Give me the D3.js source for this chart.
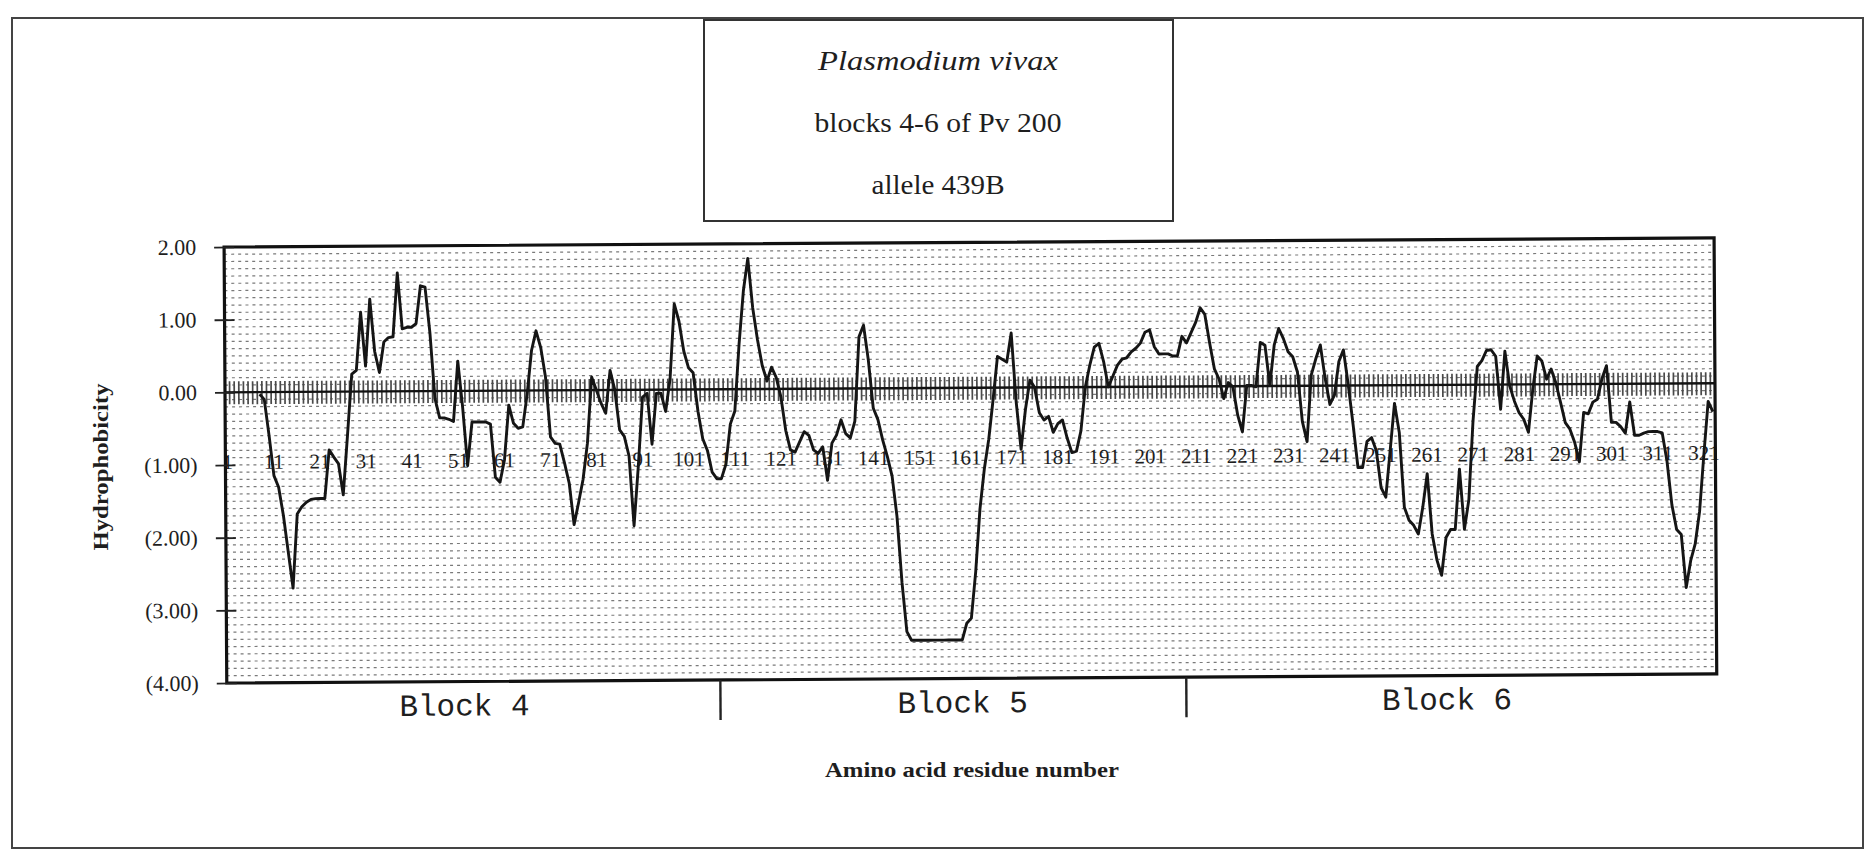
<!DOCTYPE html>
<html><head><meta charset="utf-8">
<script src="https://cdn.jsdelivr.net/npm/d3@7"></script>
<style>html,body{margin:0;padding:0;background:#fff;} svg{display:block;} .serif{font-family:"Liberation Serif","Times New Roman",serif;} .mono{font-family:"Liberation Mono","Courier New",monospace;}</style>
</head><body>
<svg id="chart" width="1867" height="851"></svg>
<script>
// ---------------- data ----------------
const residues = d3.range(1, 324); // amino acid residue numbers 1..323
const hydrophobicity = [
 null,null,null,null,null,null,null,
 -0.03,-0.10,-0.60,-1.15,-1.31,-1.70,-2.20,-2.70,-1.68,-1.58,
 -1.52,-1.48,-1.47,-1.47,-1.47,-0.80,-0.90,-0.99,-1.42,-0.60,
 0.24,0.29,1.09,0.35,1.27,0.55,0.26,0.68,0.74,0.75,
 1.63,0.86,0.88,0.88,0.93,1.45,1.43,0.80,-0.10,-0.37,
 -0.37,-0.39,-0.42,0.41,-0.23,-1.03,-0.43,-0.43,-0.43,-0.43,
 -0.46,-1.19,-1.26,-0.95,-0.20,-0.45,-0.52,-0.50,-0.05,0.55,
 0.82,0.59,0.18,-0.64,-0.73,-0.74,-1.00,-1.28,-1.85,-1.55,
 -1.23,-0.73,0.18,0.00,-0.18,-0.32,0.27,0.00,-0.55,-0.64,
 -0.91,-1.87,-1.05,-0.10,-0.05,-0.75,-0.05,-0.05,-0.30,0.15,
 1.18,0.94,0.53,0.30,0.23,-0.30,-0.68,-0.84,-1.14,-1.23,
 -1.23,-1.03,-0.48,-0.30,0.62,1.35,1.80,1.12,0.68,0.32,
 0.11,0.30,0.16,-0.11,-0.57,-0.84,-0.87,-0.73,-0.59,-0.64,
 -0.84,-0.89,-0.80,-1.26,-0.75,-0.64,-0.43,-0.62,-0.68,-0.45,
 0.71,0.87,0.39,-0.27,-0.43,-0.71,-0.94,-1.21,-1.76,-2.67,
 -3.35,-3.47,-3.47,-3.47,-3.47,-3.47,-3.47,-3.47,-3.47,-3.47,
 -3.47,-3.47,-3.47,-3.24,-3.17,-2.53,-1.67,-1.12,-0.71,-0.16,
 0.43,0.39,0.35,0.75,-0.20,-0.85,-0.30,0.10,0.00,-0.35,
 -0.45,-0.40,-0.62,-0.50,-0.45,-0.70,-0.90,-0.88,-0.60,0.00,
 0.30,0.55,0.60,0.35,0.00,0.15,0.30,0.38,0.40,0.48,
 0.53,0.60,0.75,0.78,0.55,0.45,0.45,0.45,0.42,0.42,
 0.69,0.60,0.74,0.88,1.08,0.99,0.60,0.24,0.10,-0.17,
 0.05,-0.01,-0.40,-0.63,0.01,0.01,-0.01,0.60,0.56,0.01,
 0.56,0.79,0.65,0.47,0.40,0.19,-0.49,-0.77,0.15,0.37,
 0.56,0.10,-0.26,-0.13,0.33,0.49,0.01,-0.54,-1.13,-1.13,
 -0.77,-0.72,-0.90,-1.41,-1.54,-0.90,-0.25,-0.65,-1.68,-1.86,
 -1.93,-2.05,-1.68,-1.22,-2.05,-2.41,-2.62,-2.10,-1.99,-1.99,
 -1.16,-1.99,-1.58,-0.50,0.25,0.33,0.47,0.48,0.39,-0.34,
 0.46,-0.02,-0.23,-0.39,-0.48,-0.66,-0.07,0.39,0.32,0.07,
 0.21,0.02,-0.25,-0.53,-0.62,-0.80,-1.07,-0.39,-0.41,-0.25,
 -0.21,0.07,0.25,-0.53,-0.53,-0.59,-0.68,-0.25,-0.71,-0.71,
 -0.68,-0.66,-0.66,-0.66,-0.68,-1.07,-1.67,-2.01,-2.08,-2.81,
 -2.44,-2.21,-1.76,-0.98,-0.25,-0.39
];
const xLabelResidues = [1,11,21,31,41,51,61,71,81,91,101,111,121,131,141,151,161,171,181,191,201,211,221,231,241,251,261,271,281,291,301,311,321];
const yTickValues = [2,1,0,-1,-2,-3,-4];
const yTickLabels = ["2.00","1.00","0.00","(1.00)","(2.00)","(3.00)","(4.00)"];
const blockNames = ["Block 4","Block 5","Block 6"];
const blockStarts = [1,108,209];
const blockEnds = [107,208,323];
const blockLabelAt = [52,160,265];
const titleLines = ["Plasmodium vivax","blocks 4-6 of Pv 200","allele 439B"];
const xTitle = "Amino acid residue number";
const yTitle = "Hydrophobicity";

// ---------------- layout ----------------
const svg = d3.select("#chart");
const L = 225, R = 1715, T = 247, B = 683;
const x = d3.scaleBand().domain(residues).range([L, R]).padding(0);
const cx = r => x(r) + x.bandwidth() / 2;
const y = d3.scaleLinear().domain([-4, 2]).range([B, T]);
const ink = "#1e1e1e";

svg.append("rect").attr("width",1867).attr("height",851).attr("fill","#fff");
// outer page frame
svg.append("rect").attr("x",12).attr("y",18).attr("width",1851).attr("height",830)
  .attr("fill","none").attr("stroke","#444").attr("stroke-width",2);

// title box
svg.append("rect").attr("x",704).attr("y",20).attr("width",469).attr("height",201)
  .attr("fill","#fff").attr("stroke","#333").attr("stroke-width",2);
const titleBase = [70,132,194], titleLen = [240,247,133];
titleLines.forEach((t,i)=>{
  svg.append("text").attr("class","serif").attr("x",938).attr("y",titleBase[i]).attr("text-anchor","middle")
    .style("font-size","27px")
    .style("font-style", i===0 ? "italic" : "normal")
    .attr("textLength",titleLen[i]).attr("lengthAdjust","spacingAndGlyphs")
    .attr("fill",ink).text(t);
});

// chart group (slight scan tilt)
const g = svg.append("g").attr("transform","rotate(-0.35,225,393)");

// plot background dotted grid
const gridVals = d3.range(-39, 20).map(k => k/10);
g.append("g").selectAll("line").data(gridVals).join("line")
  .attr("x1",L).attr("x2",R).attr("y1",d=>y(d)).attr("y2",d=>y(d))
  .attr("stroke","#7a7a7a").attr("stroke-width",1.2).attr("stroke-dasharray","3,4");

// dense category tick band on zero axis
const bounds = residues.map(r => x(r)).concat([R]);
g.append("g").selectAll("line").data(bounds).join("line")
  .attr("x1",d=>d).attr("x2",d=>d).attr("y1",y(0)-11).attr("y2",y(0)+12)
  .attr("stroke","#4a4a4a").attr("stroke-width",1.7);
g.append("line").attr("x1",L).attr("x2",R).attr("y1",y(0)).attr("y2",y(0))
  .attr("stroke","#111").attr("stroke-width",2.4);

// category labels
g.append("g").selectAll("text").data(xLabelResidues).join("text")
  .attr("class","serif")
  .attr("x",d=>cx(d)).attr("y",y(-1)+4).attr("text-anchor","middle")
  .style("font-size","21px")
  .attr("fill",ink).text(d=>String(d));

// series line
const line = d3.line().defined(d => d != null)
  .x((d,i) => cx(residues[i])).y(d => y(d));
g.append("path").datum(hydrophobicity).attr("d",line)
  .attr("fill","none").attr("stroke","#151515").attr("stroke-width",2.9)
  .attr("stroke-linejoin","round");

// plot frame
g.append("rect").attr("x",L).attr("y",T).attr("width",R-L).attr("height",B-T)
  .attr("fill","none").attr("stroke","#111").attr("stroke-width",3.2);

// y axis
const yAxis = g.append("g").attr("transform",`translate(${L},0)`)
  .call(d3.axisLeft(y).tickValues(yTickValues).tickFormat((d,i)=>yTickLabels[i])
        .tickSize(10).tickPadding(18));
yAxis.select(".domain").remove();
yAxis.selectAll(".tick line").attr("stroke","#222").attr("stroke-width",1.8).attr("x2",-10).attr("x1",10);
yAxis.selectAll(".tick text").attr("class","serif").style("font-size","22px")
  .attr("font-family",null).attr("fill",ink);
yAxis.attr("font-family",null);

// block dividers and labels
const dividers = blockEnds.slice(0,-1).map(e => x(e) + x.bandwidth());
g.append("g").selectAll("line").data(dividers).join("line")
  .attr("x1",d=>d).attr("x2",d=>d).attr("y1",B).attr("y2",B+40)
  .attr("stroke","#222").attr("stroke-width",2.4);
g.append("g").selectAll("text").data(blockNames).join("text")
  .attr("class","mono")
  .attr("x",(d,i)=>cx(blockLabelAt[i])).attr("y",717).attr("text-anchor","middle")
  .style("font-size","31px")
  .attr("fill",ink).text(d=>d);

// axis titles
svg.append("text").attr("class","serif").attr("x",972).attr("y",777).attr("text-anchor","middle")
  .style("font-size","22px").style("font-weight","bold")
  .attr("textLength",294).attr("lengthAdjust","spacingAndGlyphs")
  .attr("fill",ink).text(xTitle);
svg.append("text").attr("class","serif").attr("transform","translate(108,467) rotate(-90)").attr("text-anchor","middle")
  .style("font-size","21px").style("font-weight","bold")
  .attr("textLength",167).attr("lengthAdjust","spacingAndGlyphs")
  .attr("fill",ink).text(yTitle);
</script>
</body></html>
